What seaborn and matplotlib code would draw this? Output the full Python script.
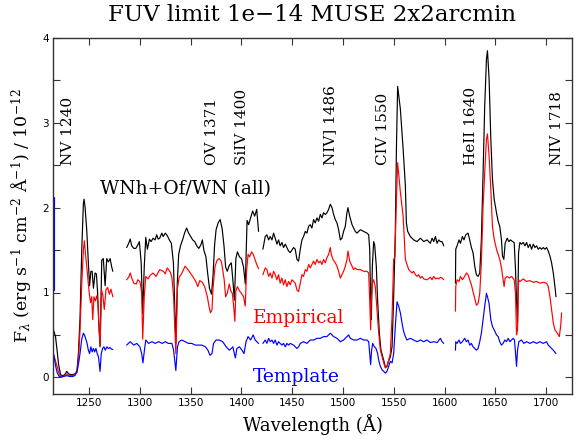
import numpy as np
import pandas as pd
import matplotlib
matplotlib.use("Agg")
import matplotlib.pyplot as plt
import seaborn as sns

# ---------------- data ----------------
# WNh+Of/WN (all) -- black
WNH_SEG1_WL = [1214, 1215.5, 1217, 1218.5, 1220, 1222, 1224, 1226, 1228, 1230, 1233, 1236, 1238,
               1239.5, 1241.1, 1242.8, 1244.4, 1245.1, 1246.1, 1247.7, 1249.3, 1250.5, 1251.8, 1253,
               1254.3, 1255.9, 1257.2, 1258.4, 1259.5, 1260.8, 1262.5, 1264.0, 1265.8, 1267.4, 1269.0,
               1270.7, 1272.3, 1273.4]
WNH_SEG1_FX = [0.58, 0.54, 0.48, 0.32, 0.15, 0.03, 0.02, 0.03, 0.07, 0.04, 0.03, 0.04, 0.06,
               0.28, 0.70, 1.50, 2.05, 2.10, 2.00, 1.74, 1.35, 1.08, 1.25, 1.25,
               1.05, 1.23, 1.22, 1.00, 0.65, 0.36, 1.38, 1.40, 1.08, 1.40, 1.36,
               1.40, 1.30, 1.25]
WNH_SEG2_WL = [1287, 1289, 1290.5, 1292, 1294, 1296, 1298, 1299.5, 1301.3, 1302.8, 1304.3, 1305.8,
               1307.4, 1309.4, 1311, 1313, 1315, 1316.5, 1318, 1319.5, 1321.6, 1323, 1325, 1327, 1329,
               1331, 1333, 1334.3, 1335.4, 1336.8, 1338.2, 1340, 1342, 1344, 1346, 1348, 1350, 1352,
               1354, 1356, 1358, 1360, 1361.5, 1363, 1365, 1366.5, 1368.5, 1370.5, 1372, 1373.5, 1375,
               1377, 1379, 1381, 1382.8, 1384.4, 1386, 1388, 1390, 1391.5, 1393, 1394.5, 1396, 1398,
               1400, 1402, 1403.8, 1405.5, 1407, 1409, 1411, 1413, 1415, 1416.8]
WNH_SEG2_FX = [1.53, 1.58, 1.63, 1.55, 1.52, 1.52, 1.56, 1.60, 1.35, 0.75, 1.30, 1.65,
               1.51, 1.63, 1.60, 1.64, 1.62, 1.68, 1.63, 1.64, 1.70, 1.66, 1.70, 1.67, 1.62,
               1.58, 1.35, 0.85, 0.40, 1.10, 1.45, 1.55, 1.62, 1.70, 1.76, 1.70, 1.66, 1.62,
               1.60, 1.55, 1.52, 1.56, 1.62, 1.50, 1.42, 1.25, 1.05, 0.98, 1.20, 1.55, 1.74,
               1.82, 1.86, 1.75, 1.55, 1.30, 1.25, 1.32, 1.35, 1.15, 0.91, 1.40, 1.48, 1.42,
               1.40, 1.30, 1.10, 1.85, 1.80, 1.88, 1.96, 1.90, 1.98, 1.72]
WNH_SEG3_WL = [1421.1, 1423.4, 1425.0, 1426.7, 1428.3, 1430.0, 1431.6, 1433.2, 1434.9, 1436.5,
               1438.1, 1439.8, 1441.4, 1443.1, 1444.7, 1446.3, 1448.0, 1451.3, 1452.9, 1454.6,
               1456.2, 1457.9, 1459.5, 1461.1, 1462.8, 1464.4, 1466.1, 1467.7, 1469.3, 1471.0,
               1472.6, 1474.3, 1475.9, 1477.6, 1479.2, 1480.8, 1482.5, 1484.1, 1485.8, 1487.4,
               1489.1, 1490.7, 1492.3, 1494.0, 1495.6, 1497.3, 1498.9, 1500.5, 1502.2, 1503.8,
               1504.8, 1506.5, 1508.8, 1510.4, 1512.0, 1513.7, 1517.0, 1520.2, 1523.5, 1525.2,
               1526.2, 1526.8, 1527.8, 1528.8, 1530.1, 1531.1, 1532.7, 1534.0, 1535.7, 1537.3,
               1540.0, 1541.6, 1543.2, 1544.9, 1546.5, 1548.2, 1549.8, 1551.4, 1552.5, 1553.7,
               1556.4, 1559.1, 1561.3, 1562.3, 1563.6, 1566.2, 1569.5, 1572.8, 1576.1, 1579.4,
               1582.6, 1585.9, 1587.6, 1589.2, 1590.9, 1592.5, 1594.1, 1595.8, 1597.4, 1599.1]
WNH_SEG3_FX = [1.51, 1.66, 1.68, 1.62, 1.66, 1.62, 1.70, 1.64, 1.57, 1.62,
               1.55, 1.59, 1.53, 1.57, 1.53, 1.49, 1.47, 1.53, 1.51, 1.39,
               1.37, 1.51, 1.62, 1.66, 1.72, 1.70, 1.78, 1.80, 1.76, 1.86,
               1.82, 1.88, 1.84, 1.92, 1.88, 1.94, 1.92, 1.94, 1.98, 2.04,
               2.00, 1.92, 1.86, 1.82, 1.74, 1.62, 1.64, 1.72, 1.78, 1.94,
               2.00, 1.90, 1.80, 1.76, 1.72, 1.70, 1.74, 1.72, 1.70, 1.68,
               1.51, 1.11, 0.68, 1.31, 1.60, 1.56, 1.31, 0.91, 0.52, 0.32,
               0.20, 0.12, 0.13, 0.20, 0.24, 0.36, 0.95, 1.70, 2.70, 3.43,
               3.16, 2.69, 2.26, 1.82, 1.72, 1.66, 1.62, 1.60, 1.64, 1.60,
               1.62, 1.58, 1.64, 1.60, 1.66, 1.58, 1.62, 1.60, 1.60, 1.55]
WNH_SEG4_WL = [1610.6, 1610.9, 1612.2, 1614.1, 1615.5, 1617.4, 1619.0, 1620.7, 1623.0, 1624.6,
               1626.3, 1627.9, 1629.6, 1631.2, 1632.9, 1634.5, 1636.1, 1637.8, 1639.4, 1641.1,
               1642.1, 1643.7, 1645.4, 1647.0, 1648.7, 1651.0, 1652.6, 1654.2, 1655.9, 1656.9,
               1658.2, 1659.5, 1661.5, 1663.1, 1664.8, 1666.8, 1668.4, 1669.7, 1670.7, 1671.7,
               1672.7, 1674.0, 1675.6, 1677.3, 1679.0, 1680.6, 1682.2, 1683.9, 1685.5, 1687.2,
               1688.8, 1690.5, 1692.1, 1693.7, 1695.4, 1697.0, 1698.7, 1700.3, 1701.9, 1703.6,
               1705.2, 1706.9, 1708.5, 1709.5]
WNH_SEG4_FX = [1.11, 1.51, 1.55, 1.62, 1.58, 1.66, 1.62, 1.68, 1.70, 1.62,
               1.53, 1.47, 1.31, 1.21, 1.19, 1.23, 1.62, 2.41, 3.20, 3.75,
               3.85, 3.52, 2.81, 2.34, 2.10, 1.94, 1.84, 1.78, 1.62, 1.43,
               1.39, 1.58, 1.64, 1.60, 1.62, 1.60, 1.59, 1.27, 0.91, 0.64,
               1.47, 1.59, 1.57, 1.59, 1.55, 1.59, 1.53, 1.57, 1.51, 1.57,
               1.53, 1.55, 1.51, 1.53, 1.51, 1.53, 1.51, 1.53, 1.49, 1.43,
               1.35, 1.23, 1.07, 0.95]

# Empirical -- red
EMP_SEG1_WL = [1214, 1215.5, 1217, 1218.5, 1220, 1222, 1224, 1226, 1228, 1230, 1233, 1236, 1238,
               1239.5, 1241.1, 1242.8, 1244.4, 1245.4, 1246.5, 1247.7, 1249.3, 1250.3, 1251.5,
               1252.6, 1253.6, 1254.8, 1256.2, 1257.5, 1258.8, 1259.8, 1260.8, 1262.3, 1263.5,
               1265.0, 1266.6, 1268.2, 1270.0, 1271.5, 1273.4]
EMP_SEG1_FX = [0.30, 0.26, 0.19, 0.13, 0.06, 0.01, 0.01, 0.02, 0.04, 0.02, 0.02, 0.03, 0.08,
               0.20, 0.55, 1.10, 1.50, 1.61, 1.45, 1.31, 1.10, 0.98, 0.88,
               0.95, 0.68, 0.95, 0.90, 0.96, 0.88, 0.60, 0.38, 1.03, 0.97,
               0.80, 1.03, 1.06, 0.98, 1.04, 0.95]
EMP_SEG2_WL = [1287, 1289, 1290.5, 1292, 1294, 1296.5, 1298, 1300, 1301.8, 1302.8, 1304.3, 1305.8,
               1308, 1310, 1313, 1316, 1319.5, 1323, 1325, 1327, 1330, 1331.5, 1333.2, 1335.4,
               1337, 1338.6, 1341, 1344.5, 1346, 1349, 1352, 1355, 1357, 1359, 1361.5, 1364,
               1366.4, 1368, 1369.5, 1371, 1372, 1374, 1376, 1378, 1380, 1381, 1383, 1384.4,
               1386, 1388, 1389.5, 1391, 1392.3, 1393.5, 1394.5, 1396, 1398, 1400, 1402, 1403.7,
               1405, 1406.5, 1408, 1410, 1411.5, 1413, 1415, 1416.8]
EMP_SEG2_FX = [1.15, 1.18, 1.23, 1.17, 1.11, 1.10, 1.15, 1.13, 1.00, 0.45, 0.95, 1.19,
               1.16, 1.20, 1.23, 1.19, 1.27, 1.25, 1.22, 1.29, 1.24, 1.18, 0.95, 0.28,
               1.05, 1.18, 1.22, 1.31, 1.29, 1.24, 1.19, 1.13, 1.07, 1.14, 1.12, 1.06,
               0.95, 0.84, 0.76, 0.80, 1.05, 1.31, 1.38, 1.40, 1.37, 1.31, 1.15, 0.95,
               0.99, 1.10, 1.02, 0.99, 0.84, 0.66, 1.02, 1.07, 1.02, 0.99, 0.95, 0.84,
               1.25, 1.45, 1.42, 1.48, 1.45, 1.40, 1.33, 1.28]
EMP_SEG3_WL = [1421.1, 1423.4, 1425.0, 1426.7, 1428.3, 1430.0, 1431.6, 1433.2, 1434.9, 1436.5,
               1438.1, 1439.8, 1441.4, 1443.1, 1444.7, 1446.3, 1448.0, 1449.6, 1451.3, 1452.9,
               1454.6, 1456.2, 1457.9, 1459.5, 1461.1, 1462.8, 1464.4, 1466.1, 1467.7, 1469.3,
               1471.0, 1472.6, 1474.3, 1475.9, 1477.6, 1479.2, 1480.8, 1482.5, 1484.1, 1485.8,
               1487.4, 1488.4, 1490.0, 1492.3, 1494.0, 1495.6, 1497.3, 1498.9, 1500.5, 1502.2,
               1503.8, 1504.8, 1506.5, 1508.8, 1510.4, 1512.0, 1513.7, 1517.0, 1520.2, 1523.5,
               1525.2, 1526.2, 1527.1, 1527.8, 1528.8, 1530.1, 1531.7, 1533.4, 1535.1, 1536.7,
               1540.0, 1541.6, 1543.2, 1544.9, 1546.5, 1548.2, 1549.8, 1551.0, 1552.5, 1553.7,
               1556.4, 1559.1, 1561.3, 1562.9, 1564.6, 1566.2, 1567.9, 1569.5, 1571.1, 1572.8,
               1574.4, 1576.1, 1577.7, 1579.4, 1582.6, 1585.9, 1587.6, 1589.2, 1590.9, 1592.5,
               1594.1, 1595.8, 1597.4, 1599.1]
EMP_SEG3_FX = [1.21, 1.29, 1.27, 1.19, 1.23, 1.17, 1.25, 1.21, 1.15, 1.21,
               1.11, 1.17, 1.09, 1.15, 1.07, 1.13, 1.09, 1.15, 1.13, 1.11,
               1.03, 1.01, 1.11, 1.21, 1.19, 1.27, 1.25, 1.33, 1.29, 1.33,
               1.37, 1.33, 1.39, 1.35, 1.37, 1.33, 1.39, 1.35, 1.41, 1.45,
               1.53, 1.45, 1.39, 1.35, 1.31, 1.25, 1.17, 1.21, 1.25, 1.31,
               1.39, 1.49, 1.37, 1.31, 1.27, 1.29, 1.27, 1.27, 1.25, 1.25,
               1.23, 0.91, 0.56, 0.91, 1.11, 1.15, 1.07, 0.79, 0.52, 0.32,
               0.17, 0.11, 0.13, 0.20, 0.28, 0.72, 1.39, 1.42, 2.10, 2.53,
               2.18, 1.90, 1.39, 1.33, 1.27, 1.25, 1.23, 1.25, 1.21, 1.19,
               1.21, 1.17, 1.19, 1.16, 1.15, 1.18, 1.15, 1.19, 1.16, 1.17,
               1.16, 1.18, 1.17, 1.15]
EMP_SEG4_WL = [1610.6, 1610.9, 1612.2, 1614.1, 1615.5, 1617.4, 1619.7, 1621.4, 1623.0, 1624.6,
               1626.3, 1627.9, 1629.6, 1631.2, 1632.9, 1634.5, 1636.1, 1637.8, 1639.4, 1641.1,
               1642.1, 1643.7, 1645.4, 1647.0, 1648.7, 1651.0, 1652.6, 1654.2, 1655.9, 1657.5,
               1658.5, 1659.5, 1661.5, 1663.5, 1665.8, 1668.4, 1669.7, 1670.7, 1671.7, 1672.7,
               1674.0, 1677.3, 1680.6, 1683.9, 1687.2, 1690.5, 1693.7, 1697.0, 1700.3, 1701.9,
               1703.6, 1705.2, 1706.9, 1708.5, 1710.8, 1712.8, 1714.1, 1715.1]
EMP_SEG4_FX = [0.78, 1.07, 1.15, 1.13, 1.19, 1.15, 1.19, 1.23, 1.21, 1.15,
               1.09, 1.01, 0.93, 0.85, 0.87, 0.99, 1.35, 2.02, 2.41, 2.81,
               2.87, 2.61, 2.22, 1.78, 1.63, 1.51, 1.45, 1.39, 1.29, 1.15,
               1.07, 1.17, 1.19, 1.17, 1.19, 1.15, 0.99, 0.50, 0.56, 1.15,
               1.13, 1.16, 1.13, 1.14, 1.12, 1.13, 1.11, 1.12, 1.11, 1.07,
               0.95, 0.80, 0.64, 0.56, 0.52, 0.48, 0.60, 0.76]

# Template -- blue
TPL_SEG1_WL = [1214, 1215.5, 1217, 1218.5, 1220, 1222, 1225, 1228, 1231, 1234, 1236, 1238,
               1239.5, 1241.1, 1242.8, 1244.4, 1245.5, 1246.5, 1247.7, 1249.3, 1250.5, 1251.8,
               1253.0, 1254.3, 1255.5, 1256.8, 1258.0, 1259.3, 1260.8, 1262.0, 1263.3, 1264.6,
               1266.0, 1267.5, 1269.0, 1270.7, 1272.3, 1273.4]
TPL_SEG1_FX = [0.30, 0.25, 0.14, 0.06, 0.02, 0.00, 0.01, 0.02, 0.01, 0.01, 0.02, 0.06,
               0.15, 0.28, 0.45, 0.52, 0.50, 0.46, 0.42, 0.32, 0.28, 0.36,
               0.30, 0.34, 0.30, 0.34, 0.28, 0.24, 0.07, 0.28, 0.34, 0.36,
               0.32, 0.36, 0.34, 0.35, 0.33, 0.33]
TPL_SEG2_WL = [1287, 1290.5, 1294, 1297, 1300, 1301.8, 1303, 1304.5, 1305.8, 1308.5, 1312, 1315,
               1318.5, 1322, 1325, 1328, 1331.5, 1333.2, 1335.4, 1337, 1338.6, 1341, 1344.5, 1348,
               1351, 1354.5, 1357.8, 1361, 1364.5, 1367, 1369, 1371, 1372.5, 1375, 1378, 1381.5,
               1385, 1388, 1390, 1391.5, 1393, 1394, 1395.5, 1398, 1400.5, 1402.5, 1404.5, 1406.5,
               1409, 1411.5, 1413.5, 1416.8]
TPL_SEG2_FX = [0.38, 0.42, 0.38, 0.40, 0.36, 0.28, 0.17, 0.32, 0.44, 0.40, 0.42, 0.40,
               0.42, 0.40, 0.42, 0.40, 0.40, 0.32, 0.08, 0.36, 0.42, 0.44, 0.42, 0.40,
               0.40, 0.38, 0.38, 0.38, 0.36, 0.32, 0.26, 0.28, 0.40, 0.44, 0.44, 0.42,
               0.36, 0.32, 0.34, 0.36, 0.28, 0.23, 0.34, 0.36, 0.32, 0.28, 0.42, 0.48,
               0.44, 0.50, 0.44, 0.40]
TPL_SEG3_WL = [1421.1, 1423.4, 1425.0, 1426.7, 1428.3, 1430.0, 1431.6, 1433.2, 1434.9, 1436.5,
               1438.1, 1439.8, 1441.4, 1443.1, 1444.7, 1446.3, 1448.0, 1451.3, 1454.6, 1456.2,
               1457.9, 1461.1, 1464.4, 1467.7, 1471.0, 1474.3, 1477.6, 1480.8, 1484.1, 1487.4,
               1489.1, 1490.7, 1494.0, 1497.3, 1500.5, 1503.8, 1505.5, 1507.1, 1510.4, 1513.7,
               1517.0, 1520.2, 1523.5, 1525.2, 1526.2, 1527.1, 1528.1, 1529.1, 1530.8, 1532.4,
               1534.0, 1535.1, 1536.7, 1538.3, 1540.0, 1541.6, 1543.2, 1544.9, 1546.5, 1548.2,
               1549.8, 1551.4, 1553.1, 1554.7, 1556.4, 1558.0, 1559.6, 1561.3, 1562.9, 1566.2,
               1569.5, 1572.8, 1576.1, 1579.4, 1582.6, 1585.9, 1589.2, 1592.5, 1595.8, 1597.4,
               1599.1]
TPL_SEG3_FX = [0.40, 0.44, 0.40, 0.46, 0.42, 0.44, 0.40, 0.44, 0.38, 0.42,
               0.40, 0.38, 0.40, 0.36, 0.40, 0.38, 0.40, 0.38, 0.34, 0.36,
               0.40, 0.42, 0.40, 0.44, 0.44, 0.46, 0.46, 0.48, 0.48, 0.52,
               0.50, 0.48, 0.46, 0.42, 0.44, 0.48, 0.50, 0.46, 0.44, 0.44,
               0.46, 0.44, 0.44, 0.42, 0.28, 0.15, 0.32, 0.40, 0.36, 0.34,
               0.28, 0.20, 0.13, 0.09, 0.07, 0.05, 0.07, 0.13, 0.19, 0.17,
               0.28, 0.60, 0.89, 0.84, 0.76, 0.64, 0.54, 0.48, 0.44, 0.46,
               0.44, 0.42, 0.44, 0.42, 0.44, 0.41, 0.42, 0.41, 0.46, 0.42,
               0.40]
TPL_SEG4_WL = [1610.6, 1610.9, 1612.2, 1614.1, 1615.5, 1617.4, 1619.7, 1621.4, 1623.0, 1624.6,
               1626.3, 1627.9, 1629.6, 1631.2, 1632.9, 1634.5, 1636.1, 1637.8, 1639.4, 1641.1,
               1642.1, 1643.7, 1645.4, 1647.0, 1648.7, 1651.0, 1652.6, 1654.2, 1655.9, 1657.5,
               1659.2, 1660.8, 1662.5, 1664.1, 1665.8, 1667.4, 1668.7, 1669.7, 1670.7, 1671.7,
               1673.0, 1675.6, 1677.9, 1680.6, 1683.9, 1687.2, 1690.5, 1693.7, 1697.0, 1700.3,
               1701.9, 1703.6, 1706.9, 1709.5]
TPL_SEG4_FX = [0.32, 0.42, 0.40, 0.44, 0.40, 0.42, 0.46, 0.42, 0.44, 0.38,
               0.40, 0.36, 0.34, 0.32, 0.34, 0.42, 0.52, 0.68, 0.84, 0.99,
               0.95, 0.87, 0.68, 0.60, 0.56, 0.50, 0.48, 0.42, 0.38, 0.40,
               0.44, 0.42, 0.46, 0.42, 0.44, 0.46, 0.44, 0.29, 0.13, 0.32,
               0.42, 0.44, 0.40, 0.42, 0.40, 0.42, 0.40, 0.42, 0.40, 0.42,
               0.38, 0.36, 0.32, 0.28]
# blue stroke seen on the left frame edge
TPL_EDGE_WL = [1215.0, 1215.0]
TPL_EDGE_FX = [2.13, 1.03]

SERIES_NAMES = ["WNh+Of/WN (all)", "Empirical", "Template"]
SERIES_COLORS = ["black", "#ff0000", "#0000ff"]

LINE_LABELS = ["NV 1240", "OV 1371", "SiIV 1400", "NIV] 1486", "CIV 1550", "HeII 1640", "NIV 1718"]
LINE_LABEL_X = [1229.5, 1371.0, 1400.5, 1487.5, 1539.5, 1625.5, 1711.0]
LINE_LABEL_Y = 2.5

X_TICKS = [1250, 1300, 1350, 1400, 1450, 1500, 1550, 1600, 1650, 1700]
Y_TICKS = [0, 0.5, 1, 1.5, 2, 2.5, 3, 3.5, 4]
Y_TICK_LABELS = ["0", "", "1", "", "2", "", "3", "", "4"]
XLIM = (1214.8, 1725.6)
YLIM = (-0.2, 4.0)

TITLE = "FUV limit 1e\u221214 MUSE 2x2arcmin"

# ---------------- build table ----------------
segments = {
    SERIES_NAMES[0]: [(WNH_SEG1_WL, WNH_SEG1_FX), (WNH_SEG2_WL, WNH_SEG2_FX),
                      (WNH_SEG3_WL, WNH_SEG3_FX), (WNH_SEG4_WL, WNH_SEG4_FX)],
    SERIES_NAMES[1]: [(EMP_SEG1_WL, EMP_SEG1_FX), (EMP_SEG2_WL, EMP_SEG2_FX),
                      (EMP_SEG3_WL, EMP_SEG3_FX), (EMP_SEG4_WL, EMP_SEG4_FX)],
    SERIES_NAMES[2]: [(TPL_SEG1_WL, TPL_SEG1_FX), (TPL_SEG2_WL, TPL_SEG2_FX),
                      (TPL_SEG3_WL, TPL_SEG3_FX), (TPL_SEG4_WL, TPL_SEG4_FX),
                      (TPL_EDGE_WL, TPL_EDGE_FX)],
}
rows = []
for name, segs in segments.items():
    for k, (wl, fx) in enumerate(segs):
        assert len(wl) == len(fx), (name, k, len(wl), len(fx))
        for w, f in zip(wl, fx):
            rows.append({"wl": w, "flux": f, "series": name, "seg": f"{name}-{k}"})
df = pd.DataFrame(rows)

# ---------------- plot ----------------
sns.set_style("ticks")
plt.rcParams["font.family"] = ["DejaVu Serif"]
plt.rcParams["mathtext.fontset"] = "dejavuserif"
plt.rcParams["text.color"] = "black"
plt.rcParams["axes.labelcolor"] = "black"
plt.rcParams["xtick.color"] = "black"
plt.rcParams["ytick.color"] = "black"

fig = plt.figure(figsize=(5.82, 4.46), dpi=100)
ax = fig.add_axes([53.3 / 582, 1 - 394.3 / 446, (572.3 - 53.3) / 582, (394.3 - 38) / 446])

sns.lineplot(data=df, x="wl", y="flux", hue="series", units="seg", estimator=None,
             sort=False, hue_order=SERIES_NAMES,
             palette=dict(zip(SERIES_NAMES, SERIES_COLORS)),
             linewidth=0.85, legend=False, ax=ax)

ax.set_xlim(*XLIM)
ax.set_ylim(*YLIM)
ax.set_xticks(X_TICKS)
ax.set_yticks(Y_TICKS)
ax.set_yticklabels(Y_TICK_LABELS)
for lab in ax.get_xticklabels() + ax.get_yticklabels():
    lab.set_family("DejaVu Sans")
    lab.set_fontsize(7.5)
    lab.set_color("black")
ax.tick_params(direction="in", length=5, width=0.8, top=True, right=True, colors="#333333",
               labelcolor="black", pad=3)
for sp in ax.spines.values():
    sp.set_visible(True)
    sp.set_color("#333333")
    sp.set_linewidth(1.0)

ax.set_xlabel("Wavelength (\u00c5)", fontsize=13, labelpad=4, color="black")
ax.set_ylabel(r"F$_\lambda$ (erg s$^{-1}$ cm$^{-2}$ $\mathrm{\AA}^{-1}$) / 10$^{-12}$", fontsize=12.5,
              labelpad=6, color="black")
fig.text(312.5 / 582, 1 - 15 / 446, TITLE, ha="center", va="center", fontsize=16.5, color="black")

for txt, xv in zip(LINE_LABELS, LINE_LABEL_X):
    ax.text(xv, LINE_LABEL_Y, txt, rotation=90, ha="center", va="bottom", fontsize=11, color="black")

ax.text(1260.8, 2.22, SERIES_NAMES[0], color=SERIES_COLORS[0], ha="left", va="center", fontsize=13.5)
ax.text(1411.6, 0.70, SERIES_NAMES[1], color=SERIES_COLORS[1], ha="left", va="center", fontsize=13.5)
ax.text(1411.6, 0.00, SERIES_NAMES[2], color=SERIES_COLORS[2], ha="left", va="center", fontsize=13.5)

fig.savefig("out.png", dpi=100)
